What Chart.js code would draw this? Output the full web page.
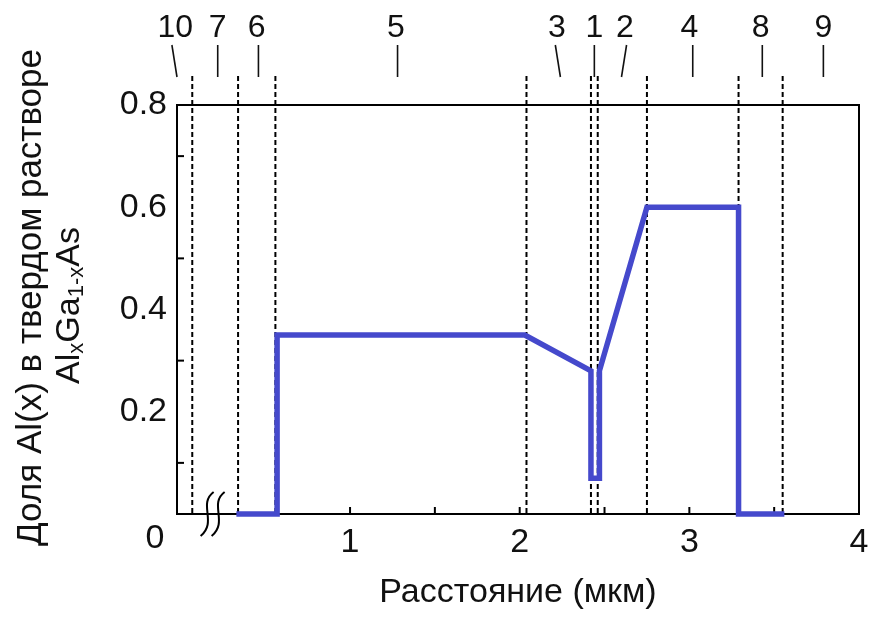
<!DOCTYPE html>
<html lang="ru">
<head>
<meta charset="utf-8">
<title>Профиль состава AlxGa1-xAs</title>
<script src="https://cdn.jsdelivr.net/npm/chart.js@4.4.1/dist/chart.umd.min.js"></script>
<style>
  html, body { margin: 0; padding: 0; background: #fff; }
  canvas { display: block; }
</style>
</head>
<body>
<canvas id="profile" width="869" height="617"></canvas>
<script>
// Al fraction across the structure, distance in µm
const distance   = [0.33, 0.57, 0.57, 2.03, 2.42, 2.42, 2.47, 2.47, 2.75, 3.29, 3.29, 3.56];
const alFraction = [0,    0,    0.35, 0.35, 0.28, 0.07, 0.07, 0.28, 0.60, 0.60, 0,    0];

// layer boundaries (dashed)
const boundaries = [0.07, 0.34, 0.56, 2.04, 2.42, 2.46, 2.75, 3.29, 3.55];

// layer numbers on top and where their leaders point
const layerNames    = ['10', '7', '6', '5', '3', '1', '2', '4', '8', '9'];
const layerLabelX   = [-0.03, 0.22, 0.45, 1.27, 2.22, 2.44, 2.62, 3.00, 3.42, 3.79];
const leaderTopX    = [-0.05, 0.22, 0.46, 1.28, 2.21, 2.44, 2.63, 3.02, 3.43, 3.79];
const leaderBottomX = [-0.02, 0.22, 0.46, 1.28, 2.24, 2.44, 2.60, 3.02, 3.43, 3.79];

const xTickLabels = [1, 2, 3, 4];
const xTickMarks  = [1, 1.5, 2, 2.5, 3, 3.5];
const yTickLabels = [0.2, 0.4, 0.6, 0.8];
const yTickMarks  = [0.1, 0.3, 0.5, 0.7];
const axisBreakAt = 0.19;

const FONT = '"Liberation Sans", Arial, sans-serif';
const LINE_BLUE = '#4549cc';
const INK = '#111';

const decorations = {
  id: 'decorations',
  beforeDatasetsDraw(chart) {
    const { ctx, chartArea: a, scales: { x, y } } = chart;
    ctx.save();

    // dashed layer boundaries, running above the frame
    ctx.strokeStyle = '#000';
    ctx.lineWidth = 2;
    ctx.setLineDash([5, 3]);
    boundaries.forEach(v => {
      const px = x.getPixelForValue(v);
      ctx.beginPath();
      ctx.moveTo(px, 76);
      ctx.lineTo(px, a.bottom);
      ctx.stroke();
    });
    ctx.setLineDash([]);

    // frame
    ctx.lineWidth = 2;
    ctx.strokeRect(a.left, a.top, a.right - a.left, a.bottom - a.top);

    // inward tick marks
    xTickMarks.forEach(v => {
      const px = x.getPixelForValue(v);
      ctx.beginPath();
      ctx.moveTo(px, a.bottom);
      ctx.lineTo(px, a.bottom - 7);
      ctx.stroke();
    });
    yTickMarks.forEach(v => {
      const py = y.getPixelForValue(v);
      ctx.beginPath();
      ctx.moveTo(a.left, py);
      ctx.lineTo(a.left + 7, py);
      ctx.stroke();
    });

    // axis break
    const bx = x.getPixelForValue(axisBreakAt);
    const by = a.bottom;
    ctx.lineWidth = 2;
    [-5, 6].forEach(o => {
      ctx.beginPath();
      ctx.moveTo(bx + o + 6, by - 22);
      ctx.bezierCurveTo(bx + o - 10, by - 10, bx + o + 10, by + 8, bx + o - 7, by + 22);
      ctx.stroke();
    });

    ctx.restore();
  },
  afterDraw(chart) {
    const { ctx, chartArea: a, scales: { x } } = chart;
    ctx.save();
    ctx.fillStyle = INK;
    ctx.strokeStyle = INK;

    // layer numbers and leaders
    ctx.font = `32px ${FONT}`;
    ctx.textAlign = 'center';
    ctx.textBaseline = 'middle';
    ctx.lineWidth = 1.6;
    layerNames.forEach((name, i) => {
      ctx.fillText(name, x.getPixelForValue(layerLabelX[i]), 28);
      ctx.beginPath();
      ctx.moveTo(x.getPixelForValue(leaderTopX[i]), 45);
      ctx.lineTo(x.getPixelForValue(leaderBottomX[i]), 77);
      ctx.stroke();
    });

    // shared zero in the corner
    ctx.font = `34px ${FONT}`;
    ctx.fillText('0', 155, 539);

    // y title, two rotated lines
    const cy = (a.top + a.bottom) / 2 - 12;
    ctx.save();
    ctx.translate(41, cy);
    ctx.rotate(-Math.PI / 2);
    ctx.textBaseline = 'alphabetic';
    ctx.font = `35px ${FONT}`;
    ctx.fillText('Доля Al(x) в твердом растворе', 0, 0);
    ctx.restore();

    const parts = [
      { t: 'Al', sub: false }, { t: 'x', sub: true },
      { t: 'Ga', sub: false }, { t: '1-x', sub: true },
      { t: 'As', sub: false }
    ];
    const fontOf = p => p.sub ? `22px ${FONT}` : `34px ${FONT}`;
    let total = 0;
    parts.forEach(p => { ctx.font = fontOf(p); total += ctx.measureText(p.t).width; });
    ctx.save();
    ctx.translate(79, cy + 8);
    ctx.rotate(-Math.PI / 2);
    ctx.textAlign = 'left';
    ctx.textBaseline = 'alphabetic';
    let pos = -total / 2;
    parts.forEach(p => {
      ctx.font = fontOf(p);
      ctx.fillText(p.t, pos, p.sub ? 4 : 0);
      pos += ctx.measureText(p.t).width;
    });
    ctx.restore();

    ctx.restore();
  }
};

new Chart(document.getElementById('profile'), {
  type: 'scatter',
  data: {
    datasets: [{
      data: distance.map((d, i) => ({ x: d, y: alFraction[i] })),
      showLine: true,
      borderColor: LINE_BLUE,
      borderWidth: 5.5,
      borderJoinStyle: 'miter',
      pointRadius: 0,
      tension: 0,
      clip: false
    }]
  },
  options: {
    responsive: false,
    animation: false,
    layout: { padding: { top: 105, right: 10, left: 0, bottom: 0 } },
    plugins: { legend: { display: false }, tooltip: { enabled: false } },
    scales: {
      x: {
        type: 'linear',
        min: -0.02,
        max: 4,
        afterBuildTicks: s => { s.ticks = xTickLabels.map(v => ({ value: v })); },
        afterFit: s => {
          s.height = 103;
          // let the last label hang past the frame instead of shrinking it
          s.paddingLeft = 0;
          s.paddingRight = 0;
        },
        grid: { display: false, drawTicks: false },
        border: { display: false },
        ticks: {
          padding: 8,
          color: INK,
          maxRotation: 0,
          font: { family: FONT, size: 34 },
          callback: v => String(v)
        },
        title: {
          display: true,
          text: 'Расстояние (мкм)',
          color: INK,
          font: { family: FONT, size: 34 },
          padding: { top: 0, bottom: 4 }
        }
      },
      y: {
        min: 0,
        max: 0.8,
        afterBuildTicks: s => { s.ticks = yTickLabels.map(v => ({ value: v })); },
        afterFit: s => { s.width = 177; },
        grid: { display: false, drawTicks: false },
        border: { display: false },
        ticks: {
          padding: 10,
          color: INK,
          font: { family: FONT, size: 34 },
          callback: v => v.toFixed(1)
        }
      }
    }
  },
  plugins: [decorations]
});
</script>
</body>
</html>
